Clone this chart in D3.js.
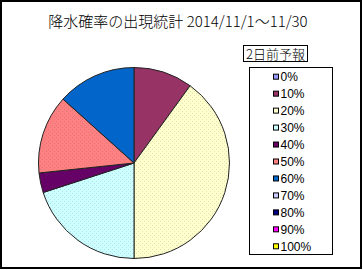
<!DOCTYPE html>
<html><head><meta charset="utf-8">
<script src="https://cdn.jsdelivr.net/npm/d3@7"></script>
<style>html,body{margin:0;padding:0;background:#fff;}svg{display:block;}</style>
</head><body>
<svg id="chart" width="363" height="270"></svg>
<script>
const title = "降水確率の出現統計 2014/11/1～11/30";
const legendTitle = "2日前予報";
const categories = ["0%","10%","20%","30%","40%","50%","60%","70%","80%","90%","100%"];
const days = [0,3,12,6,1,4,4,0,0,0,0];
const colors = ["#9999FF","#993366","#FFFFCC","#CCFFFF","#660066","#FF8080","#0066CC","#CCCCFF","#000080","#FF00FF","#FFFF00"];

const svg = d3.select("#chart");
const defs = svg.append("defs");
colors.forEach((c,i)=>{
  const p = defs.append("pattern").attr("id","pat"+i).attr("patternUnits","userSpaceOnUse")
    .attr("width",4).attr("height",4);
  p.append("rect").attr("width",4).attr("height",4).attr("fill",c);
  p.append("rect").attr("x",0).attr("y",0).attr("width",1).attr("height",1).attr("fill","#557").attr("opacity",0.18);
  p.append("rect").attr("x",2).attr("y",2).attr("width",1).attr("height",1).attr("fill","#557").attr("opacity",0.18);
});

svg.append("rect").attr("x",1).attr("y",1).attr("width",360).attr("height",267)
  .attr("fill","#fff").attr("stroke","#000").attr("stroke-width",2);

svg.append("text").attr("x",178).attr("y",27).attr("text-anchor","middle")
  .attr("font-family","'Noto Sans CJK JP'").attr("font-size",15).attr("font-weight",300)
  .attr("fill","#000").text(title);

const cx = 134, cy = 163, r = 95.5;
const pie = d3.pie().sort(null).value(d=>d.v);
const arcs = pie(categories.map((c,i)=>({c, v: days[i], i})));
const arc = d3.arc().innerRadius(0).outerRadius(r);
const g = svg.append("g").attr("transform",`translate(${cx},${cy})`);
g.selectAll("path").data(arcs.filter(a=>a.data.v>0)).enter().append("path")
  .attr("d",arc).attr("fill",d=>`url(#pat${d.data.i})`)
  .attr("stroke","#222").attr("stroke-width",1).attr("stroke-linejoin","round");

// legend title box
svg.append("rect").attr("x",243.5).attr("y",45.5).attr("width",64).attr("height",16)
  .attr("fill","#fff").attr("stroke","#000").attr("stroke-width",1);
svg.append("text").attr("x",275.5).attr("y",58.5).attr("text-anchor","middle")
  .attr("font-family","'Noto Sans CJK JP'").attr("font-size",13).attr("font-weight",300)
  .attr("fill","#000").text(legendTitle);

// legend box
svg.append("rect").attr("x",249.5).attr("y",67.5).attr("width",83).attr("height",187)
  .attr("fill","#fff").attr("stroke","#000").attr("stroke-width",1);
const ly = d3.scaleLinear().domain([0,categories.length-1]).range([76.7,246.3]);
const lg = svg.append("g").selectAll("g").data(categories).enter().append("g")
  .attr("transform",(d,i)=>`translate(0,${ly(i)})`);
lg.append("rect").attr("x",273.5).attr("y",-2.5).attr("width",5).attr("height",5)
  .attr("fill",(d,i)=>colors[i]).attr("stroke","#000").attr("stroke-width",1);
lg.append("text").attr("x",280.5).attr("y",4.5).attr("font-family","'Liberation Sans', Arial")
  .attr("font-size",12).attr("fill","#000").text(d=>d);
</script>
</body></html>
